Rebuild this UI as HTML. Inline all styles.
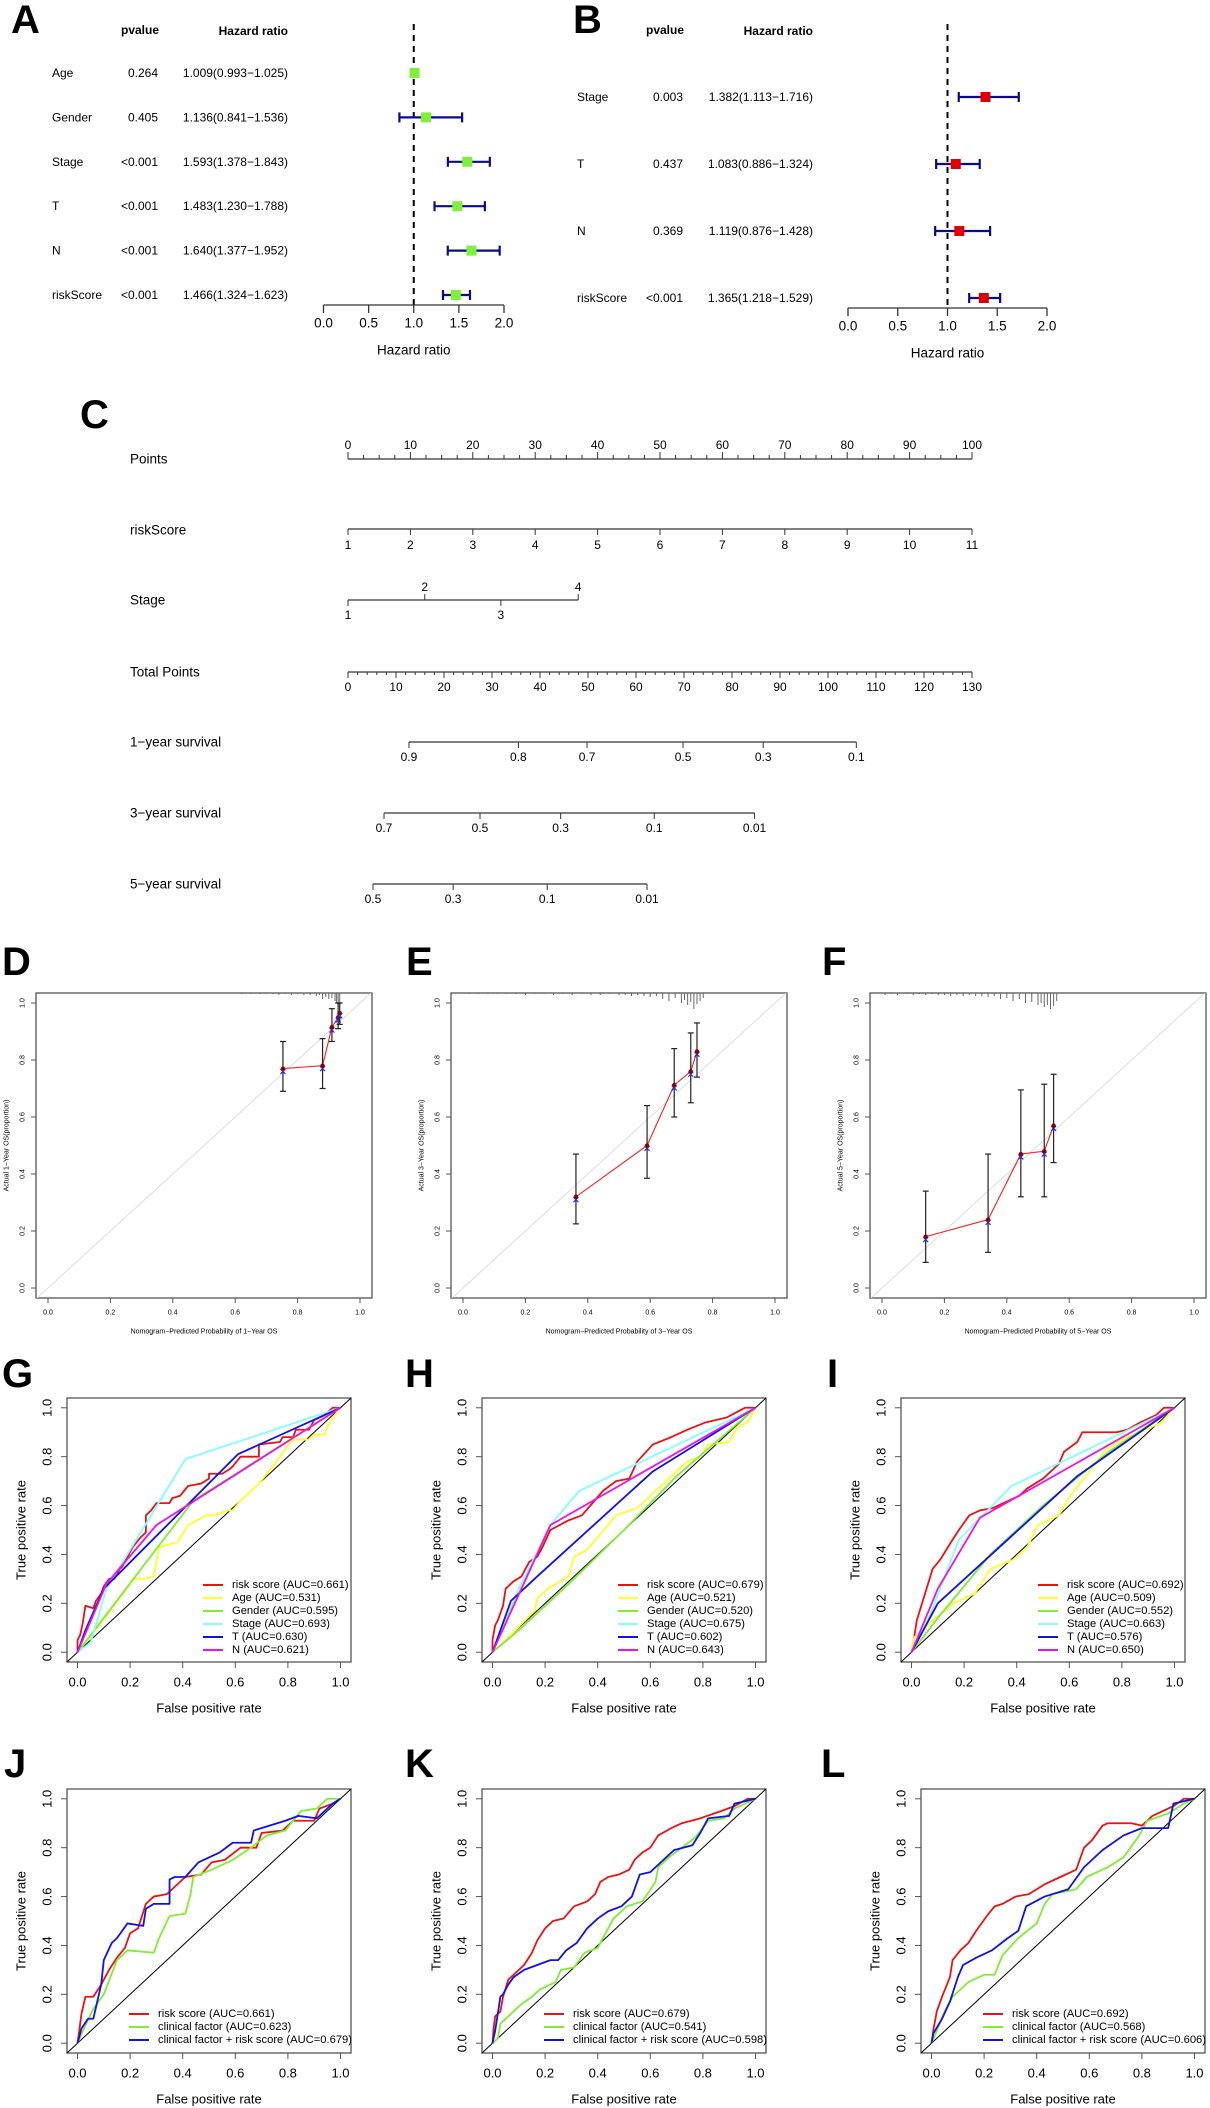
<!DOCTYPE html>
<html><head><meta charset="utf-8">
<style>
body{margin:0;background:#fff}
svg{display:block;font-family:"Liberation Sans",Arial,sans-serif}
</style></head>
<body>
<svg id="fig" xmlns="http://www.w3.org/2000/svg" width="1210" height="2108" viewBox="0 0 1210 2108">
<rect x="0" y="0" width="1210" height="2108" fill="#ffffff"/>
</svg>
<script>
// ---------------- DATA ----------------
const forestTicks=[0,0.5,1,1.5,2];
const forestAVars=["Age","Gender","Stage","T","N","riskScore"];
const forestAP=["0.264","0.405","<0.001","<0.001","<0.001","<0.001"];
const forestAHR=[1.009,1.136,1.593,1.483,1.640,1.466];
const forestALow=[0.993,0.841,1.378,1.230,1.377,1.324];
const forestAHigh=[1.025,1.536,1.843,1.788,1.952,1.623];
const forestBVars=["Stage","T","N","riskScore"];
const forestBP=["0.003","0.437","0.369","<0.001"];
const forestBHR=[1.382,1.083,1.119,1.365];
const forestBLow=[1.113,0.886,0.876,1.218];
const forestBHigh=[1.716,1.324,1.428,1.529];

const nomoPointsTicks=[0,10,20,30,40,50,60,70,80,90,100];
const nomoRiskScoreTicks=[1,2,3,4,5,6,7,8,9,10,11];
const nomoStageLevels=[1,2,3,4];
const nomoStagePoints=[0,12.3,24.5,36.9];
const nomoTotalTicks=[0,10,20,30,40,50,60,70,80,90,100,110,120,130];
const surv1Labels=["0.9","0.8","0.7","0.5","0.3","0.1"];
const surv1Total=[12.7,35.5,49.8,69.8,86.5,105.9];
const surv3Labels=["0.7","0.5","0.3","0.1","0.01"];
const surv3Total=[7.5,27.5,44.3,63.8,84.7];
const surv5Labels=["0.5","0.3","0.1","0.01"];
const surv5Total=[5.2,21.9,41.5,62.3];

const calTicks=[0,0.2,0.4,0.6,0.8,1.0];
const calDPred=[0.753,0.88,0.91,0.93,0.935];
const calDObs=[0.77,0.78,0.915,0.95,0.965];
const calDLow=[0.69,0.70,0.865,0.91,0.925];
const calDHigh=[0.865,0.875,0.98,1.0,1.0];
const calEPred=[0.362,0.59,0.677,0.73,0.75];
const calEObs=[0.32,0.50,0.712,0.76,0.83];
const calELow=[0.225,0.385,0.60,0.65,0.74];
const calEHigh=[0.47,0.64,0.84,0.895,0.93];
const calFPred=[0.14,0.34,0.445,0.52,0.55];
const calFObs=[0.18,0.24,0.47,0.48,0.57];
const calFLow=[0.09,0.125,0.32,0.32,0.44];
const calFHigh=[0.34,0.47,0.695,0.715,0.75];
const rugDX=[0.62,0.65,0.68,0.7,0.72,0.74,0.76,0.78,0.8,0.82,0.84,0.86,0.87,0.88,0.89,0.9,0.91,0.92,0.925,0.93,0.935];
const rugDH=[1,1,1,1,1,2,1,2,1,2,2,3,2,6,4,6,5,8,10,14,12];
const rugEX=[0.02,0.05,0.08,0.11,0.14,0.17,0.2,0.23,0.26,0.29,0.32,0.35,0.38,0.41,0.44,0.47,0.5,0.52,0.54,0.56,0.58,0.6,0.62,0.64,0.66,0.68,0.7,0.71,0.72,0.73,0.74,0.75,0.76,0.77];
const rugEH=[1,1,1,1,1,1,2,1,1,2,1,2,1,2,2,1,2,2,3,2,3,4,3,6,8,5,10,7,12,9,16,11,8,5];
const rugFX=[0.01,0.03,0.05,0.08,0.1,0.12,0.14,0.16,0.18,0.2,0.22,0.24,0.26,0.28,0.3,0.32,0.34,0.36,0.38,0.4,0.42,0.44,0.46,0.48,0.5,0.51,0.52,0.53,0.54,0.55,0.56];
const rugFH=[2,1,2,1,2,1,2,1,2,2,3,2,3,2,3,3,4,3,6,5,8,6,10,9,12,10,14,12,16,13,8];

const rocTicks=[0,0.2,0.4,0.6,0.8,1.0];
const rocG_risk=[[0,0],[0,0.05],[0.01,0.07],[0.02,0.12],[0.03,0.19],[0.06,0.18],[0.07,0.21],[0.09,0.24],[0.1,0.27],[0.12,0.3],[0.14,0.3],[0.16,0.34],[0.17,0.35],[0.19,0.39],[0.21,0.43],[0.24,0.47],[0.26,0.49],[0.26,0.56],[0.28,0.58],[0.3,0.61],[0.35,0.61],[0.36,0.63],[0.39,0.64],[0.42,0.68],[0.47,0.69],[0.5,0.71],[0.5,0.73],[0.55,0.73],[0.58,0.75],[0.59,0.76],[0.62,0.8],[0.69,0.8],[0.69,0.85],[0.77,0.86],[0.78,0.88],[0.82,0.88],[0.83,0.91],[0.88,0.91],[0.9,0.95],[0.94,0.97],[0.97,1],[1,1]];
const rocG_age=[[0,0],[0.09,0.12],[0.2,0.28],[0.21,0.3],[0.25,0.3],[0.29,0.31],[0.31,0.43],[0.38,0.45],[0.42,0.52],[0.49,0.56],[0.52,0.56],[0.57,0.58],[0.59,0.58],[0.62,0.62],[0.69,0.69],[0.75,0.77],[0.81,0.86],[0.83,0.87],[0.88,0.87],[0.9,0.89],[0.94,0.89],[0.95,0.92],[0.97,0.96],[1,1]];
const rocG_gender=[[0,0],[0.44,0.62],[1,1]];
const rocG_stage=[[0,0],[0.05,0.04],[0.11,0.26],[0.41,0.79],[1,1]];
const rocG_t=[[0,0],[0.03,0.09],[0.1,0.26],[0.61,0.81],[1,1]];
const rocG_n=[[0,0],[0.11,0.28],[0.3,0.52],[1,1]];
const rocH_risk=[[0,0],[0,0.05],[0.01,0.11],[0.02,0.13],[0.04,0.19],[0.05,0.26],[0.08,0.29],[0.11,0.31],[0.14,0.37],[0.17,0.39],[0.19,0.43],[0.22,0.5],[0.29,0.54],[0.34,0.56],[0.38,0.61],[0.42,0.66],[0.47,0.7],[0.52,0.71],[0.55,0.78],[0.61,0.85],[0.68,0.88],[0.74,0.91],[0.81,0.94],[0.89,0.96],[0.96,1],[1,1]];
const rocH_age=[[0,0],[0.06,0.06],[0.16,0.17],[0.17,0.22],[0.21,0.26],[0.29,0.31],[0.31,0.39],[0.36,0.42],[0.4,0.47],[0.47,0.56],[0.55,0.59],[0.62,0.66],[0.74,0.78],[0.79,0.8],[0.82,0.85],[0.9,0.86],[0.93,0.92],[0.97,0.94],[1,1]];
const rocH_gender=[[0,0],[0.1,0.09],[0.3,0.29],[0.5,0.5],[0.7,0.72],[0.85,0.86],[1,1]];
const rocH_stage=[[0,0],[0.1,0.26],[0.22,0.52],[0.33,0.66],[1,1]];
const rocH_t=[[0,0],[0.07,0.21],[0.17,0.31],[0.61,0.74],[1,1]];
const rocH_n=[[0,0],[0.22,0.52],[1,1]];
const rocI_risk=[[0,0],[0.01,0.06],[0.02,0.13],[0.04,0.2],[0.06,0.27],[0.08,0.34],[0.11,0.38],[0.15,0.45],[0.18,0.5],[0.22,0.56],[0.26,0.58],[0.31,0.59],[0.35,0.61],[0.41,0.64],[0.44,0.67],[0.5,0.71],[0.56,0.77],[0.58,0.82],[0.63,0.86],[0.65,0.9],[0.78,0.9],[0.82,0.91],[0.87,0.94],[0.93,0.97],[0.96,1],[1,1]];
const rocI_age=[[0,0],[0.01,0.06],[0.04,0.09],[0.07,0.12],[0.16,0.2],[0.24,0.24],[0.3,0.34],[0.39,0.38],[0.44,0.43],[0.48,0.52],[0.56,0.56],[0.61,0.65],[0.67,0.73],[0.74,0.83],[0.82,0.88],[0.89,0.91],[0.95,0.94],[1,1]];
const rocI_gender=[[0,0],[0.1,0.14],[0.3,0.4],[0.5,0.6],[0.75,0.82],[1,1]];
const rocI_stage=[[0,0],[0.07,0.15],[0.18,0.46],[0.38,0.68],[1,1]];
const rocI_t=[[0,0],[0.1,0.2],[0.63,0.72],[1,1]];
const rocI_n=[[0,0],[0.1,0.26],[0.26,0.55],[1,1]];
const rocJ_risk=[[0,0],[0.007,0.055],[0.015,0.12],[0.03,0.19],[0.06,0.19],[0.09,0.24],[0.12,0.3],[0.15,0.35],[0.18,0.39],[0.2,0.45],[0.23,0.47],[0.26,0.57],[0.29,0.6],[0.34,0.61],[0.37,0.64],[0.41,0.68],[0.47,0.69],[0.51,0.74],[0.56,0.75],[0.62,0.8],[0.68,0.8],[0.7,0.86],[0.78,0.87],[0.82,0.91],[0.9,0.91],[0.92,0.96],[0.97,0.98],[1,1]];
const rocJ_clin=[[0,0],[0.02,0.05],[0.06,0.14],[0.1,0.2],[0.15,0.34],[0.19,0.38],[0.29,0.37],[0.31,0.43],[0.35,0.52],[0.41,0.53],[0.43,0.61],[0.44,0.68],[0.51,0.71],[0.59,0.75],[0.66,0.8],[0.72,0.85],[0.79,0.87],[0.85,0.95],[0.91,0.96],[0.95,1],[1,1]];
const rocJ_comb=[[0,0],[0.015,0.06],[0.04,0.1],[0.06,0.1],[0.09,0.24],[0.1,0.34],[0.13,0.41],[0.15,0.43],[0.19,0.49],[0.25,0.48],[0.26,0.55],[0.29,0.57],[0.35,0.57],[0.35,0.67],[0.37,0.68],[0.41,0.68],[0.46,0.74],[0.5,0.76],[0.54,0.78],[0.59,0.82],[0.66,0.82],[0.67,0.87],[0.73,0.89],[0.79,0.91],[0.84,0.93],[0.91,0.92],[0.97,0.98],[1,1]];
const rocK_risk=[[0,0],[0.004,0.06],[0.01,0.11],[0.03,0.13],[0.04,0.19],[0.06,0.26],[0.08,0.28],[0.12,0.32],[0.15,0.37],[0.17,0.42],[0.2,0.47],[0.23,0.5],[0.27,0.51],[0.31,0.56],[0.36,0.58],[0.39,0.61],[0.41,0.66],[0.44,0.68],[0.48,0.69],[0.52,0.71],[0.54,0.75],[0.57,0.78],[0.6,0.8],[0.63,0.85],[0.68,0.88],[0.72,0.9],[0.79,0.92],[0.87,0.95],[0.92,0.97],[0.97,1],[1,1]];
const rocK_clin=[[0,0],[0.02,0.02],[0.03,0.08],[0.06,0.11],[0.11,0.16],[0.15,0.19],[0.18,0.22],[0.24,0.25],[0.26,0.3],[0.31,0.31],[0.35,0.37],[0.4,0.39],[0.44,0.47],[0.46,0.51],[0.51,0.56],[0.57,0.58],[0.62,0.66],[0.63,0.72],[0.67,0.76],[0.72,0.8],[0.77,0.84],[0.82,0.91],[0.88,0.92],[0.92,0.96],[0.98,0.99],[1,1]];
const rocK_comb=[[0,0],[0.01,0.05],[0.03,0.19],[0.04,0.2],[0.06,0.24],[0.08,0.27],[0.12,0.3],[0.17,0.32],[0.22,0.34],[0.25,0.34],[0.28,0.38],[0.32,0.41],[0.36,0.47],[0.4,0.51],[0.44,0.54],[0.49,0.56],[0.53,0.6],[0.56,0.69],[0.6,0.7],[0.63,0.73],[0.69,0.79],[0.76,0.81],[0.79,0.86],[0.82,0.92],[0.9,0.93],[0.92,0.98],[0.96,0.99],[1,1]];
const rocL_risk=[[0,0],[0.007,0.055],[0.02,0.13],[0.04,0.19],[0.07,0.27],[0.08,0.34],[0.11,0.38],[0.14,0.41],[0.17,0.46],[0.21,0.52],[0.24,0.56],[0.27,0.57],[0.32,0.6],[0.37,0.61],[0.43,0.65],[0.49,0.68],[0.55,0.71],[0.58,0.8],[0.61,0.83],[0.65,0.89],[0.67,0.9],[0.76,0.9],[0.8,0.89],[0.84,0.93],[0.92,0.97],[0.96,1],[1,1]];
const rocL_clin=[[0,0],[0.02,0.05],[0.05,0.13],[0.08,0.19],[0.14,0.25],[0.2,0.28],[0.24,0.28],[0.27,0.36],[0.33,0.43],[0.4,0.49],[0.43,0.57],[0.46,0.61],[0.55,0.63],[0.59,0.68],[0.67,0.72],[0.73,0.76],[0.79,0.85],[0.82,0.91],[0.9,0.94],[0.96,0.98],[1,1]];
const rocL_comb=[[0,0],[0.007,0.04],[0.04,0.1],[0.07,0.17],[0.1,0.27],[0.12,0.32],[0.17,0.35],[0.23,0.38],[0.29,0.43],[0.33,0.46],[0.36,0.56],[0.43,0.6],[0.52,0.63],[0.58,0.72],[0.65,0.79],[0.73,0.85],[0.8,0.88],[0.9,0.88],[0.92,0.98],[1,1]];

// ---------------- HELPERS ----------------
const NS="http://www.w3.org/2000/svg";
const svg=document.getElementById('fig');
function add(p,tag,a){const e=document.createElementNS(NS,tag);for(const k in a)e.setAttribute(k,a[k]);p.appendChild(e);return e;}
function txt(p,x,y,s,size,anchor,weight,rot){
  const t=add(p,'text',{x:x,y:y,'font-size':size,'text-anchor':anchor||'start','font-weight':weight||'normal','dominant-baseline':'central',fill:'#000'});
  if(rot)t.setAttribute('transform','rotate('+rot+' '+x+' '+y+')');
  t.textContent=s;return t;}
function ln(p,x1,y1,x2,y2,c,w){return add(p,'line',{x1:x1,y1:y1,x2:x2,y2:y2,stroke:c,'stroke-width':w});}
function letter(x,y,s){
  const t=txt(svg,x,y,s,40,'start','bold');
  t.setAttribute('dominant-baseline','alphabetic');
  
  
}
letter(11,33,"A");letter(573,33,"B");letter(80,428,"C");
letter(2,975,"D");letter(406,975,"E");letter(822,975,"F");
letter(2,1387,"G");letter(405,1387,"H");letter(827,1387,"I");
letter(4,1777,"J");letter(405,1777,"K");letter(821,1777,"L");

// ---------------- FOREST ----------------
function drawForest(id,vars,ps,hr,lo,hi,col,L){
  const g=add(svg,'g',{});
  
  
  const xs=v=>L.x0+(L.x2-L.x0)*v/2;
  let t=txt(g,L.pHdr,30,"pvalue",12,'middle','bold');
  
  
  t=txt(g,L.hrRight,31,"Hazard ratio",12,'end','bold');
  
  
  const dl=add(g,'line',{x1:xs(1),y1:24,x2:xs(1),y2:L.axisY,stroke:'#000','stroke-width':2,'stroke-dasharray':'6,5'});
  
  
  vars.forEach((v,i)=>{
    const y=L.rowTop+i*L.step;
    let a=txt(g,L.nameX,y,v,12,'start');
    
    
    a=txt(g,L.pRight,y,ps[i],12,'end');
    
    
    a=txt(g,L.hrRight,y,hr[i].toFixed(3)+"("+lo[i].toFixed(3)+"\u2212"+hi[i].toFixed(3)+")",12,'end');
    
    
    const ci=add(g,'g',{});
    
    
    ln(ci,xs(lo[i]),y,xs(hi[i]),y,'#0a0a8c',2.2);
    ln(ci,xs(lo[i]),y-5,xs(lo[i]),y+5,'#0a0a8c',2.2);
    ln(ci,xs(hi[i]),y-5,xs(hi[i]),y+5,'#0a0a8c',2.2);
    const sq=add(g,'rect',{x:xs(hr[i])-5,y:y-5,width:10,height:10,fill:col});
    
    
  });
  const ax=add(g,'g',{});
  
  
  ln(ax,xs(0),L.axisY,xs(2),L.axisY,'#333',1.3);
  forestTicks.forEach(v=>{
    ln(ax,xs(v),L.axisY,xs(v),L.axisY+8,'#333',1.3);
    const tl=txt(ax,xs(v),L.axisY+18,v.toFixed(1),13.5,'middle');
    
    
  });
  const xt=txt(g,xs(1),L.xlabY,"Hazard ratio",13.5,'middle');
  
  
}
drawForest('a',forestAVars,forestAP,forestAHR,forestALow,forestAHigh,'#7df03a',
 {x0:323.5,x2:504,nameX:52,pRight:158,hrRight:288,pHdr:140,rowTop:73,step:44.4,axisY:305,xlabY:350});
drawForest('b',forestBVars,forestBP,forestBHR,forestBLow,forestBHigh,'#e00000',
 {x0:848,x2:1047,nameX:577,pRight:683,hrRight:813,pHdr:665,rowTop:97,step:67,axisY:308,xlabY:353});

// ---------------- NOMOGRAM ----------------
(function(){
  const g=add(svg,'g',{});
  
  
  const X0=348,W=624;
  const px=p=>X0+p*W/100;
  const tx=t=>X0+t*W/130;
  const C='#333';
  function rowName(y,s,name){const t=txt(g,130,y,s,13.5,'start');}
  function tl(x,y,s){const t=txt(g,x,y,s,12,'middle');}
  // points
  rowName(459,"Points",'points-label');
  ln(g,px(0),459,px(100),459,C,1.3);
  for(let p=0;p<=100;p+=2.5){const maj=(p%10===0);ln(g,px(p),459,px(p),maj?452:455,C,1);}
  nomoPointsTicks.forEach(p=>tl(px(p),445,String(p)));
  // riskScore
  rowName(530,"riskScore",'riskscore-label');
  const rs=v=>px((v-1)*10);
  ln(g,rs(1),529,rs(11),529,C,1.3);
  nomoRiskScoreTicks.forEach(v=>{ln(g,rs(v),529,rs(v),535,C,1);tl(rs(v),545,String(v));});
  // stage
  rowName(600,"Stage",'stage-label');
  ln(g,px(nomoStagePoints[0]),600,px(nomoStagePoints[3]),600,C,1.3);
  nomoStageLevels.forEach((v,i)=>{const x=px(nomoStagePoints[i]);const up=(v%2===0);
    ln(g,x,600,x,up?594:606,C,1);tl(x,up?587:615,String(v));});
  // total
  rowName(672,"Total Points",'total-points-label');
  ln(g,tx(0),672,tx(130),672,C,1.3);
  for(let t=0;t<=130;t+=2){const maj=(t%10===0);ln(g,tx(t),672,tx(t),maj?678:675,C,1);}
  nomoTotalTicks.forEach(t=>tl(tx(t),687,String(t)));
  // survival
  function surv(y,labels,tot,s,name){
    rowName(y,s,name);
    ln(g,tx(tot[0]),y,tx(tot[tot.length-1]),y,C,1.3);
    tot.forEach((t,i)=>{ln(g,tx(t),y,tx(t),y+6,C,1);tl(tx(t),y+15,labels[i]);});
  }
  surv(742,surv1Labels,surv1Total,"1\u2212year survival",'1-year-survival-label');
  surv(813,surv3Labels,surv3Total,"3\u2212year survival",'3-year-survival-label');
  surv(884,surv5Labels,surv5Total,"5\u2212year survival",'5-year-survival-label');
})();

// ---------------- CALIBRATION ----------------
function drawCal(id,left,yr,pred,obs,lo,hi,rx,rh){
  const g=add(svg,'g',{});
  
  
  const top=993,W=336,H=305;
  const xs=v=>left+12+v*312;
  const ys=v=>1288-v*285;
  const box=add(g,'rect',{x:left,y:top,width:W,height:H,fill:'none',stroke:'#555','stroke-width':1.3});
  
  
  const cp=add(g,'clipPath',{id:'clip'+id});
  add(cp,'rect',{x:left,y:top,width:W,height:H});
  const diag=add(g,'line',{x1:xs(-0.04),y1:ys(-0.04),x2:xs(1.04),y2:ys(1.04),stroke:'#ddd','stroke-width':1,'clip-path':'url(#clip'+id+')'});
  
  
  rx.forEach((v,i)=>{const r=ln(g,xs(v),top,xs(v),top+rh[i],'#666',1);
    
    });
  calTicks.forEach(v=>{
    ln(g,xs(v),top+H,xs(v),top+H+5,'#555',1);
    let t=txt(g,xs(v),1313,v.toFixed(1),7,'middle');
    
    
    ln(g,left,ys(v),left-5,ys(v),'#555',1);
    t=txt(g,left-13,ys(v),v.toFixed(1),7,'middle','normal',-90);
    
    
  });
  let t=txt(g,xs(0.5),1332,"Nomogram\u2212Predicted Probability of "+yr+"\u2212Year OS",7,'middle');
  
  
  t=txt(g,left-29,ys(0.5),"Actual "+yr+"\u2212Year OS(proportion)",7,'middle','normal',-90);
  
  
  const pl=add(g,'polyline',{points:pred.map((p,i)=>xs(p)+','+ys(obs[i])).join(' '),fill:'none',stroke:'#f03030','stroke-width':1.2});
  
  
  pred.forEach((p,i)=>{
    const eb=add(g,'g',{});
    
    
    ln(eb,xs(p),ys(lo[i]),xs(p),ys(hi[i]),'#222',1.2);
    ln(eb,xs(p)-3,ys(lo[i]),xs(p)+3,ys(lo[i]),'#222',1.2);
    ln(eb,xs(p)-3,ys(hi[i]),xs(p)+3,ys(hi[i]),'#222',1.2);
    const bx=add(g,'path',{d:'M'+(xs(p)-2.5)+','+(ys(obs[i]-0.01)-2.5)+'l5,5m0,-5l-5,5',stroke:'#2030ff','stroke-width':1.2});
    
    
    const c=add(g,'circle',{cx:xs(p),cy:ys(obs[i]),r:2.2,fill:'#8b0000'});
    
    
  });
}
drawCal('d',36,"1",calDPred,calDObs,calDLow,calDHigh,rugDX,rugDH);
drawCal('e',451,"3",calEPred,calEObs,calELow,calEHigh,rugEX,rugEH);
drawCal('f',870,"5",calFPred,calFObs,calFLow,calFHigh,rugFX,rugFH);

// ---------------- ROC ----------------
const COL={red:'#ee1111',yellow:'#ffff22',green:'#80ee30',cyan:'#80ffff',blue:'#1010ee',magenta:'#ee10ee'};
function drawROC(id,left,top,series,legendRow0){
  const g=add(svg,'g',{});
  
  
  const W=284,H=264;
  const xs=v=>left+(v+0.04)/1.08*W;
  const ys=v=>top+H-(v+0.04)/1.08*H;
  const box=add(g,'rect',{x:left,y:top,width:W,height:H,fill:'none',stroke:'#555','stroke-width':1.3});
  
  
  const d=ln(g,xs(-0.04),ys(-0.04),xs(1.04),ys(1.04),'#000',1);
  
  
  rocTicks.forEach(v=>{
    ln(g,xs(v),top+H,xs(v),top+H+6,'#555',1);
    let t=txt(g,xs(v),top+H+20,v.toFixed(1),13,'middle');
    
    
    ln(g,left,ys(v),left-6,ys(v),'#555',1);
    t=txt(g,left-20,ys(v),v.toFixed(1),13,'middle','normal',-90);
    
    
  });
  let t=txt(g,xs(0.5),top+H+46,"False positive rate",13,'middle');
  
  
  t=txt(g,left-46,ys(0.5),"True positive rate",13,'middle','normal',-90);
  
  
  series.forEach(s=>{
    const p=add(g,'polyline',{points:s.pts.map(q=>xs(q[0])+','+ys(q[1])).join(' '),fill:'none',stroke:COL[s.col],'stroke-width':1.8,'stroke-linejoin':'round'});
    
    
  });
  const lg=add(g,'g',{});
  
  
  const lx=left+legendRow0.dx;
  series.forEach((s,i)=>{
    const y=top+legendRow0.dy+i*13;
    const e=add(lg,'g',{});
    
    
    ln(e,lx,y,lx+20,y,COL[s.col],2);
    txt(e,lx+29,y,s.label,11.2,'start');
  });
}
drawROC('g',67,1398,[
 {key:'risk-score',col:'red',pts:rocG_risk,label:'risk score (AUC=0.661)'},
 {key:'age',col:'yellow',pts:rocG_age,label:'Age (AUC=0.531)'},
 {key:'gender',col:'green',pts:rocG_gender,label:'Gender (AUC=0.595)'},
 {key:'stage',col:'cyan',pts:rocG_stage,label:'Stage (AUC=0.693)'},
 {key:'t',col:'blue',pts:rocG_t,label:'T (AUC=0.630)'},
 {key:'n',col:'magenta',pts:rocG_n,label:'N (AUC=0.621)'}],{dx:136,dy:187});
drawROC('h',482,1398,[
 {key:'risk-score',col:'red',pts:rocH_risk,label:'risk score (AUC=0.679)'},
 {key:'age',col:'yellow',pts:rocH_age,label:'Age (AUC=0.521)'},
 {key:'gender',col:'green',pts:rocH_gender,label:'Gender (AUC=0.520)'},
 {key:'stage',col:'cyan',pts:rocH_stage,label:'Stage (AUC=0.675)'},
 {key:'t',col:'blue',pts:rocH_t,label:'T (AUC=0.602)'},
 {key:'n',col:'magenta',pts:rocH_n,label:'N (AUC=0.643)'}],{dx:136,dy:187});
drawROC('i',901,1398,[
 {key:'risk-score',col:'red',pts:rocI_risk,label:'risk score (AUC=0.692)'},
 {key:'age',col:'yellow',pts:rocI_age,label:'Age (AUC=0.509)'},
 {key:'gender',col:'green',pts:rocI_gender,label:'Gender (AUC=0.552)'},
 {key:'stage',col:'cyan',pts:rocI_stage,label:'Stage (AUC=0.663)'},
 {key:'t',col:'blue',pts:rocI_t,label:'T (AUC=0.576)'},
 {key:'n',col:'magenta',pts:rocI_n,label:'N (AUC=0.650)'}],{dx:137,dy:187});
drawROC('j',67,1789,[
 {key:'risk-score',col:'red',pts:rocJ_risk,label:'risk score (AUC=0.661)'},
 {key:'clinical-factor',col:'green',pts:rocJ_clin,label:'clinical factor (AUC=0.623)'},
 {key:'combined',col:'blue',pts:rocJ_comb,label:'clinical factor + risk score (AUC=0.679)'}],{dx:62,dy:225});
drawROC('k',482,1789,[
 {key:'risk-score',col:'red',pts:rocK_risk,label:'risk score (AUC=0.679)'},
 {key:'clinical-factor',col:'green',pts:rocK_clin,label:'clinical factor (AUC=0.541)'},
 {key:'combined',col:'blue',pts:rocK_comb,label:'clinical factor + risk score (AUC=0.598)'}],{dx:62,dy:225});
drawROC('l',921,1789,[
 {key:'risk-score',col:'red',pts:rocL_risk,label:'risk score (AUC=0.692)'},
 {key:'clinical-factor',col:'green',pts:rocL_clin,label:'clinical factor (AUC=0.568)'},
 {key:'combined',col:'blue',pts:rocL_comb,label:'clinical factor + risk score (AUC=0.606)'}],{dx:62,dy:225});
</script>
</body></html>
